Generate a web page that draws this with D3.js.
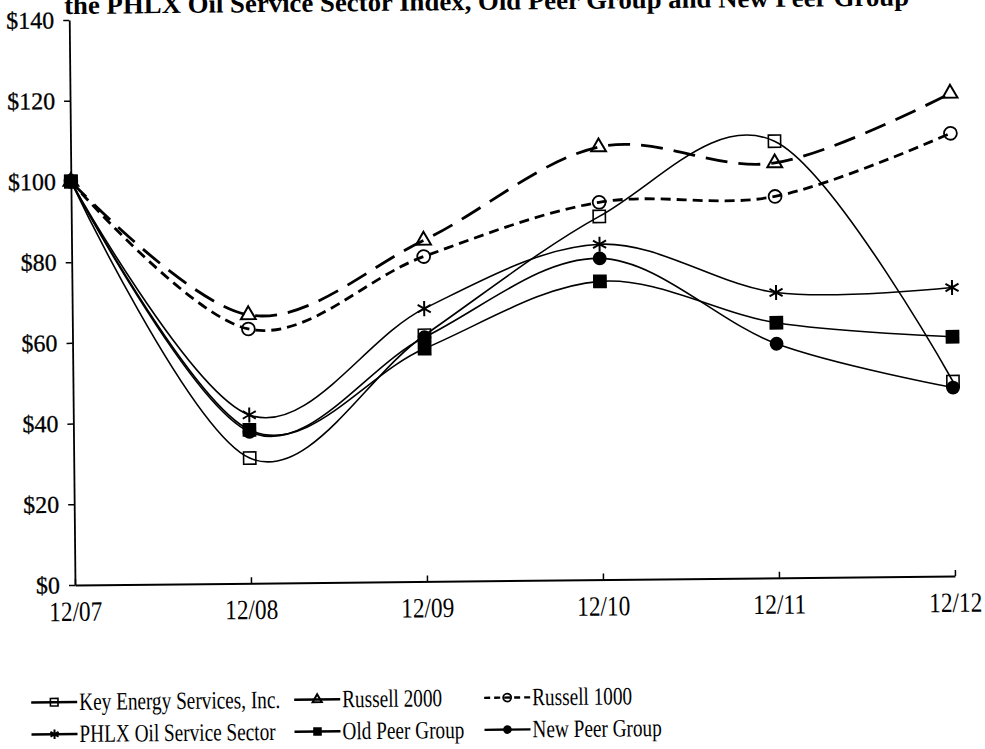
<!DOCTYPE html>
<html>
<head>
<meta charset="utf-8">
<script src="https://cdn.jsdelivr.net/npm/d3@7"></script>
<style>
  body { margin: 0; background: #fff; }
  svg { display: block; }
  text { font-family: "Liberation Serif", "Times New Roman", serif; fill: #000; }
</style>
</head>
<body>
<div id="chart"></div>
<script>
// data
const periods = ["12/07", "12/08", "12/09", "12/10", "12/11", "12/12"];
const keyEnergy   = [100, 31.0, 61.0, 90.0, 108.2, 48.2];
const russell2000 = [100, 66.5, 84.5, 107.2, 102.8, 119.6];
const russell1000 = [100, 63.0, 80.5, 93.5, 94.5, 109.7];
const phlxOsx     = [100, 41.7, 67.6, 83.1, 70.7, 71.5];
const oldPeer     = [100, 38.0, 57.7, 73.9, 63.2, 59.3];
const newPeer     = [100, 37.5, 60.5, 79.6, 58.0, 46.7];
const yTicks = [0, 20, 40, 60, 80, 100, 120, 140];
const titleText = "the PHLX Oil Service Sector Index, Old Peer Group and New Peer Group";

const width = 985, height = 749;
const origin = { x: 75, y: 585 };

// series + how each one is drawn (legendDash = pattern of the short legend sample)
const series = [
  { name: "Key Energy Services, Inc.", values: keyEnergy, marker: "openSquare", dash: null, legendDash: null, lw: 1.6 },
  { name: "Russell 2000", values: russell2000, marker: "triangle", dash: "22,11", legendDash: null, lw: 2.8 },
  { name: "Russell 1000", values: russell1000, marker: "openCircle", dash: "10,6", legendDash: "6,4", lw: 2.8 },
  { name: "PHLX Oil Service Sector", values: phlxOsx, marker: "star", dash: null, legendDash: null, lw: 1.6 },
  { name: "Old Peer Group", values: oldPeer, marker: "filledSquare", dash: null, legendDash: null, lw: 1.6 },
  { name: "New Peer Group", values: newPeer, marker: "filledCircle", dash: null, legendDash: null, lw: 1.6 }
];

const svg = d3.select("#chart").append("svg")
  .attr("width", width)
  .attr("height", height);

// the scan is slightly tilted, so everything sits in a rotated group
const root = svg.append("g")
  .attr("transform", `rotate(-0.585, ${origin.x}, ${origin.y})`);

const x = d3.scalePoint()
  .domain(periods)
  .range([origin.x, 955]);

const y = d3.scaleLinear()
  .domain([0, 140])
  .range([origin.y, 20]);

// title (cut off by the top edge in the source)
root.append("text")
  .attr("x", 70)
  .attr("y", 14)
  .attr("font-size", 26)
  .attr("font-weight", "bold")
  .attr("textLength", 845)
  .attr("lengthAdjust", "spacingAndGlyphs")
  .text(titleText);

// axes
const yAxis = d3.axisLeft(y)
  .tickValues(yTicks)
  .tickFormat(d => "$" + d)
  .tickSizeInner(6)
  .tickSizeOuter(0)
  .tickPadding(9);

const gy = root.append("g")
  .attr("transform", `translate(${origin.x},0)`)
  .call(yAxis);
gy.select(".domain").attr("stroke-width", 1.8);
gy.selectAll(".tick line").attr("stroke-width", 1.5);
gy.selectAll("text")
  .attr("font-size", 24)
  .attr("font-family", "Liberation Serif")
  .attr("stroke", "#000")
  .attr("stroke-width", 0.3);

const xAxis = d3.axisBottom(x)
  .tickSizeInner(-6)
  .tickSizeOuter(0);

const gx = root.append("g")
  .attr("transform", `translate(0,${origin.y})`)
  .call(xAxis);
gx.select(".domain").attr("stroke-width", 2);
gx.selectAll(".tick line").attr("stroke-width", 1.5);
gx.selectAll("text")
  .attr("y", 16)
  .attr("dy", "0.71em")
  .attr("font-size", 28)
  .attr("font-family", "Liberation Serif")
  .attr("textLength", 53)
  .attr("lengthAdjust", "spacingAndGlyphs");

// lines
const line = d3.line()
  .x((d, i) => x(periods[i]))
  .y(d => y(d))
  .curve(d3.curveCatmullRom.alpha(0));

const plot = root.append("g");

plot.selectAll("path.series")
  .data(series)
  .join("path")
    .attr("class", "series")
    .attr("d", d => line(d.values))
    .attr("fill", "none")
    .attr("stroke", "#000")
    .attr("stroke-width", d => d.lw)
    .attr("stroke-dasharray", d => d.dash);

// markers
function drawMarker(g, type, big) {
  const k = big ? 1 : 0.62;
  if (type === "openSquare") {
    g.append("path").attr("d", d3.symbol(d3.symbolSquare, 150 * k * k)())
      .attr("fill", "none").attr("stroke", "#000").attr("stroke-width", 1.6);
  } else if (type === "triangle") {
    g.append("path").attr("d", d3.symbol(d3.symbolTriangle, 95 * k * k)())
      .attr("fill", "none").attr("stroke", "#000").attr("stroke-width", 2);
  } else if (type === "openCircle") {
    g.append("path").attr("d", d3.symbol(d3.symbolCircle, 130 * k * k)())
      .attr("fill", "none").attr("stroke", "#000").attr("stroke-width", 1.8);
  } else if (type === "star") {
    g.append("path").attr("d", d3.symbol(d3.symbolAsterisk, 160 * k * k)())
      .attr("fill", "none").attr("stroke", "#000").attr("stroke-width", 2);
  } else if (type === "filledSquare") {
    g.append("path").attr("d", d3.symbol(d3.symbolSquare, 190 * k * k)())
      .attr("fill", "#000");
  } else if (type === "filledCircle") {
    g.append("path").attr("d", d3.symbol(d3.symbolCircle, 150 * k * k)())
      .attr("fill", "#000");
  }
}

series.forEach(s => {
  s.values.forEach((v, i) => {
    const g = plot.append("g")
      .attr("transform", `translate(${x(periods[i])},${y(v)})`);
    drawMarker(g, s.marker, true);
  });
});

// legend, two rows of three
const legendCols = [30, 293, 483];
const legendRows = [710, 742];
const legend = root.append("g").attr("class", "legend");

series.forEach((s, i) => {
  const lx = legendCols[i % 3];
  const ly = legendRows[Math.floor(i / 3)];
  const g = legend.append("g").attr("transform", `translate(${lx},${ly - 8})`);
  g.append("line")
    .attr("x1", 0).attr("x2", 46)
    .attr("stroke", "#000")
    .attr("stroke-width", 2.4)
    .attr("stroke-dasharray", s.legendDash);
  const m = g.append("g").attr("transform", "translate(23,0)");
  drawMarker(m, s.marker, false);
  g.append("text")
    .attr("transform", "translate(48,8) scale(0.77,1)")
    .attr("font-size", 25)
    .text(s.name);
});
</script>
</body>
</html>
